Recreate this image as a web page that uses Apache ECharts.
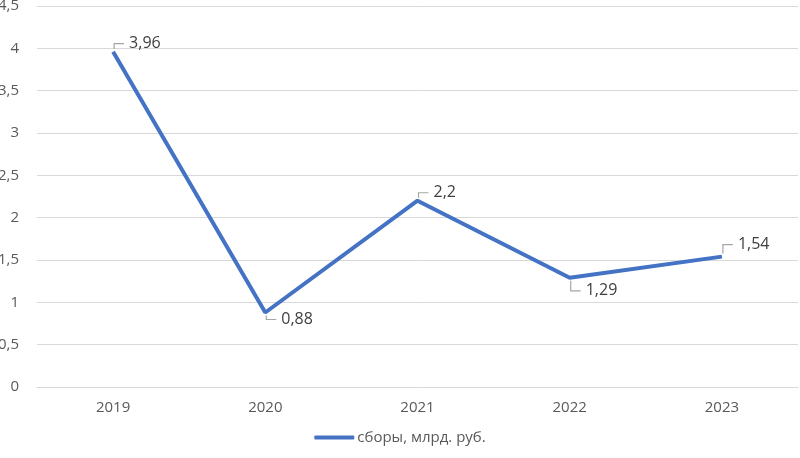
<!DOCTYPE html>
<html><head><meta charset="utf-8">
<script src="https://cdn.jsdelivr.net/npm/echarts@6/dist/echarts.min.js"></script>
<style>html,body{margin:0;padding:0;background:#fff}#c{width:800px;height:458px}</style>
</head><body><div id="c"></div>
<script>
const categories = ['2019', '2020', '2021', '2022', '2023'];
const values = [3.96, 0.88, 2.2, 1.29, 1.54];
const seriesName = 'сборы, млрд. руб.';
// label leader offsets in pixels (style only)
const labelDy = [-8, 7, -8, 13, -12];

const fmt = v => String(v).replace('.', ',');
const chart = echarts.init(document.getElementById('c'));
chart.setOption({
  animation: false,
  textStyle: { fontFamily: 'Open Sans' },
  grid: { left: 37, right: 2, top: 6, bottom: 71, containLabel: false, outerBoundsMode: 'none' },
  xAxis: {
    type: 'category', data: categories, boundaryGap: true,
    axisLine: { lineStyle: { color: '#d9d9d9', width: 1 } },
    axisTick: { show: false },
    axisLabel: { color: '#595959', fontSize: 15, margin: 13 }
  },
  yAxis: {
    type: 'value', min: 0, max: 4.5, interval: 0.5,
    axisLine: { show: false }, axisTick: { show: false },
    splitLine: { lineStyle: { color: '#d9d9d9', width: 1 } },
    axisLabel: { color: '#595959', fontSize: 15, margin: 18, formatter: v => fmt(v) }
  },
  legend: {
    bottom: 8, left: 'center', itemWidth: 40, itemHeight: 4, itemGap: 3,
    icon: 'roundRect',
    textStyle: { color: '#595959', fontSize: 15, padding: [0, 0, 0, -2] },
    data: [seriesName]
  },
  series: [{
    name: seriesName, type: 'line', data: values,
    symbol: 'none',
    lineStyle: { color: '#4472c4', width: 4 },
    itemStyle: { color: '#4472c4' }
  }, {
    name: 'labels', type: 'custom', silent: true, z: 5,
    data: values.map((v, i) => [i, v]),
    renderItem: (params, api) => {
      const i = params.dataIndex;
      const p = api.coord([api.value(0), api.value(1)]);
      const dy = labelDy[i];
      const s = dy < 0 ? -1 : 1;
      const x = p[0] + 1;
      return {
        type: 'group',
        children: [{
          type: 'polyline',
          shape: { points: [[x, p[1] + s * 3], [x, p[1] + dy], [x + 10, p[1] + dy]] },
          style: { stroke: '#a6a6a6', lineWidth: 1.2, fill: null }
        }, {
          type: 'text',
          x: x + 15, y: p[1] + dy,
          style: { text: fmt(api.value(1)), fill: '#404040', font: '16px "Open Sans"',
            verticalAlign: 'middle', align: 'left' }
        }]
      };
    }
  }]
});
</script></body></html>
